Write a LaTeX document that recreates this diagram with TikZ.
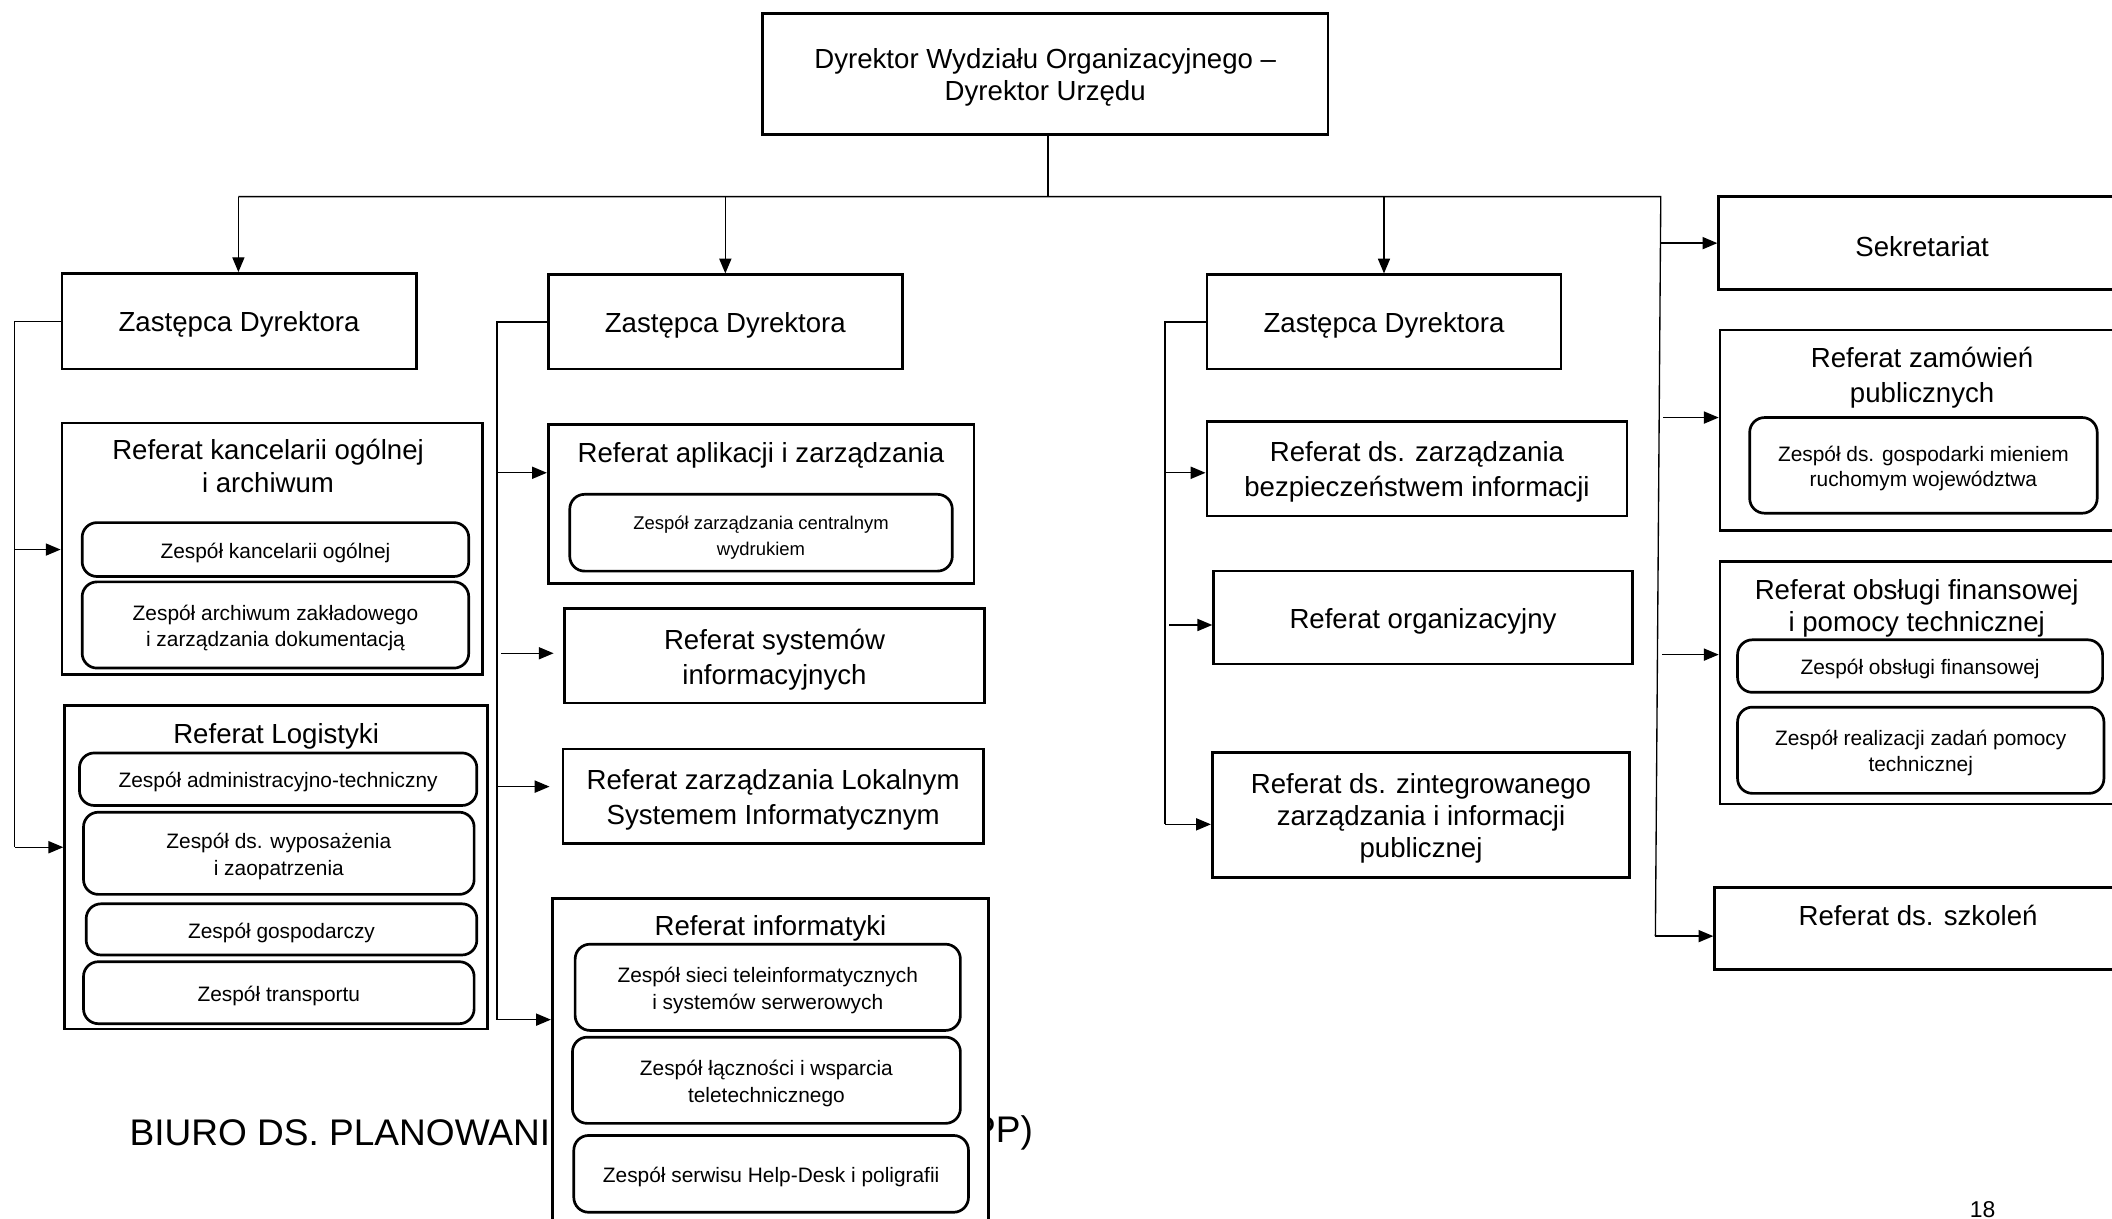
\documentclass[tikz,border=0pt]{standalone}
\usepackage{fontspec}
\setmainfont{Liberation Sans}
\usetikzlibrary{arrows.meta,fit}
\newcommand\Bst{\rule{0pt}{20pt}}
\newcommand\Tst{\rule{0pt}{16pt}}
\newcommand\Sst{\rule{0pt}{17pt}}
\begin{document}
\begin{tikzpicture}[x=1pt,y=-1pt,
  big/.style={draw=black, line width=2pt, fill=white, inner sep=0pt, align=center, font=\fontsize{20.5}{25}\selectfont, execute at begin node={\Bst}},
  frame/.style={draw=black, line width=2pt, fill=white, inner sep=0pt},
  team/.style={draw=black, line width=2pt, rounded corners=11pt, fill=white, inner sep=0pt, align=center, font=\fontsize{15.5}{19.5}\selectfont, execute at begin node={\Tst}},
  teamsmall/.style={draw=black, line width=2pt, rounded corners=11pt, fill=white, inner sep=0pt, align=center, font=\fontsize{13.7}{19}\selectfont, execute at begin node={\Sst}},
  title/.style={inner sep=0pt, align=center, font=\fontsize{20.5}{25}\selectfont},
  conn/.style={line width=1pt, draw=black},
  arr/.style={conn, -{Triangle[length=11pt,width=9pt]}},
]
\useasboundingbox (0,0) rectangle (1568,905);

% background texts
\node[inner sep=0pt, anchor=west, font=\fontsize{27.5}{30}\selectfont] (biuro) at (96,841) {BIURO DS. PLANOWANI};
\node[inner sep=0pt, anchor=east, font=\fontsize{27.5}{30}\selectfont] (biuro2) at (767,841) {PP)};
\node[inner sep=0pt, font=\fontsize{17}{18}\selectfont] (page) at (1472,898) {18};

% top
\node[big, minimum width=420pt, minimum height=90pt] (top) at (776,55) {\Bst Dyrektor Wydziału Organizacyjnego –\\[-1pt]Dyrektor Urzędu};

% deputies
\node[big, minimum width=263pt, minimum height=71pt] (Z1) at (177.5,238.5) {Zastępca Dyrektora};
\node[big, minimum width=263pt, minimum height=70pt] (Z2) at (538.5,239) {Zastępca Dyrektora};
\node[big, minimum width=263pt, minimum height=70pt] (Z3) at (1027.5,239) {Zastępca Dyrektora};

% column 1
\node[frame, fit={(46,314) (358,501)}] (Kan) {};
\node[title] (KanT) at (199,346) {Referat kancelarii ogólnej\\[-1pt]i archiwum};
\node[team, minimum width=287pt, minimum height=40pt] (Kan1) at (204.5,408) {Zespół kancelarii ogólnej};
\node[team, minimum width=287pt, minimum height=64pt] (Kan2) at (204.5,464) {\Tst Zespół archiwum zakładowego\\i zarządzania dokumentacją};

\node[frame, fit={(48,524) (362,764)}] (Log) {};
\node[title] (LogT) at (205,547) {Referat Logistyki};
\node[team, minimum width=295pt, minimum height=39pt] (Log1) at (206.5,578.5) {Zespół administracyjno-techniczny};
\node[team, minimum width=290pt, minimum height=61pt] (Log2) at (207,633.5) {\Tst Zespół ds. wyposażenia\\i zaopatrzenia};
\node[team, minimum width=290pt, minimum height=38pt] (Log3) at (209,690) {Zespół gospodarczy};
\node[team, minimum width=290pt, minimum height=46pt] (Log4) at (207,737) {Zespół transportu};

% column 2
\node[frame, fit={(407,315) (723,433)}] (Apl) {};
\node[title] (AplT) at (565,338) {Referat aplikacji i zarządzania};
\node[teamsmall, minimum width=284pt, minimum height=57pt] (Apl1) at (565,395.5) {\Sst Zespół zarządzania centralnym\\wydrukiem};
\node[big, minimum width=312pt, minimum height=70pt] (Sys) at (575,487) {\Bst Referat systemów\\[1pt]informacyjnych};
\node[big, minimum width=312pt, minimum height=70pt] (Lok) at (574,591) {\Bst Referat zarządzania Lokalnym\\[1pt]Systemem Informatycznym};
\node[frame, fit={(410,667) (734,925)}] (Inf) {};
\node[title] (InfT) at (572,689) {Referat informatyki};
\node[team, minimum width=286pt, minimum height=64pt] (Inf1) at (570,733) {\Tst Zespół sieci teleinformatycznych\\i systemów serwerowych};
\node[team, minimum width=288pt, minimum height=64pt] (Inf2) at (569,802) {\Tst Zespół łączności i wsparcia\\teletechnicznego};
\node[team, minimum width=293pt, minimum height=57pt] (Inf3) at (572.5,871.5) {Zespół serwisu Help-Desk i poligrafii};

% column 3
\node[big, minimum width=312pt, minimum height=70pt] (Bez) at (1052,348) {\Bst Referat ds. zarządzania\\[1pt]bezpieczeństwem informacji};
\node[big, minimum width=311pt, minimum height=69pt] (Org) at (1056.5,458.5) {Referat organizacyjny};
\node[big, minimum width=310pt, minimum height=93pt] (Zint) at (1055,605) {\Bst Referat ds. zintegrowanego\\[-1pt]zarządzania i informacji\\[-1pt]publicznej};

% column 4
\node[big, minimum width=302pt, minimum height=69pt] (Sek) at (1427,180.5) {Sekretariat};
\node[frame, fit={(1277,245) (1578,394)}] (Zam) {};
\node[title] (ZamT) at (1427,280.5) {Referat zamówień\\[1pt]publicznych};
\node[team, minimum width=258pt, minimum height=71pt] (Zam1) at (1428,345.5) {\Tst Zespół ds. gospodarki mieniem\\[-0.5pt]ruchomym województwa};
\node[frame, fit={(1277,417) (1578,597)}] (Fin) {};
\node[title] (FinT) at (1423,451.5) {Referat obsługi finansowej\\[-1pt]i pomocy technicznej};
\node[team, minimum width=271pt, minimum height=39pt] (Fin1) at (1425.5,494.5) {Zespół obsługi finansowej};
\node[team, minimum width=272pt, minimum height=64pt] (Fin2) at (1426,557) {\Tst Zespół realizacji zadań pomocy\\technicznej};
\node[frame, fit={(1273,659) (1578,720)}] (Szk) {};
\node[title] (SzkT) at (1424,679.5) {Referat ds. szkoleń};

% trunk
\coordinate (tj) at (778,146);
\coordinate (hl) at (177,146);
\coordinate (hr) at (1233,146);
\coordinate (rb) at (1229,695);
\draw[conn] (top.south -| tj) -- (tj);
\draw[conn] (hl) -- (hr) -- (rb);
\draw[arr] (hl) -- (Z1.north -| hl);
\draw[arr] (Z2.north |- tj) -- (Z2.north);
\draw[arr] (Z3.north |- tj) -- (Z3.north);

% right branch arrows
\coordinate (r1) at (1232.8,180.5);
\coordinate (r2) at (1235,310);
\coordinate (r3) at (1234,486);
\draw[arr] (r1) -- (Sek.west);
\draw[arr] (r2) -- (r2 -| Zam.west);
\draw[arr] (r3) -- (r3 -| Fin.west);
\draw[arr] (rb) -- (rb -| Szk.west);

% column 1 connectors
\coordinate (a1) at (11,238.5);
\coordinate (a2) at (11,408);
\coordinate (a3) at (11,629);
\draw[conn] (Z1.west) -- (a1) -- (a3);
\draw[arr] (a2) -- (a2 -| Kan.west);
\draw[arr] (a3) -- (a3 -| Log.west);

% column 2 connectors
\coordinate (b1) at (369,239);
\coordinate (b2) at (369,351);
\coordinate (b3) at (372,485);
\coordinate (b4) at (369,584);
\coordinate (b5) at (369,757);
\coordinate (b3e) at (411,485);
\coordinate (b4e) at (408,584);
\draw[conn] (Z2.west) -- (b1) -- (b5);
\draw[arr] (b2) -- (b2 -| Apl.west);
\draw[arr] (b3) -- (b3e);
\draw[arr] (b4) -- (b4e);
\draw[arr] (b5) -- (b5 -| Inf.west);

% column 3 connectors
\coordinate (c1) at (865,239);
\coordinate (c2) at (865,351);
\coordinate (c3) at (868,464);
\coordinate (c4) at (865,612);
\draw[conn] (Z3.west) -- (c1) -- (c4);
\draw[arr] (c2) -- (c2 -| Bez.west);
\draw[arr] (c3) -- (c3 -| Org.west);
\draw[arr] (c4) -- (c4 -| Zint.west);
\end{tikzpicture}
\end{document}
